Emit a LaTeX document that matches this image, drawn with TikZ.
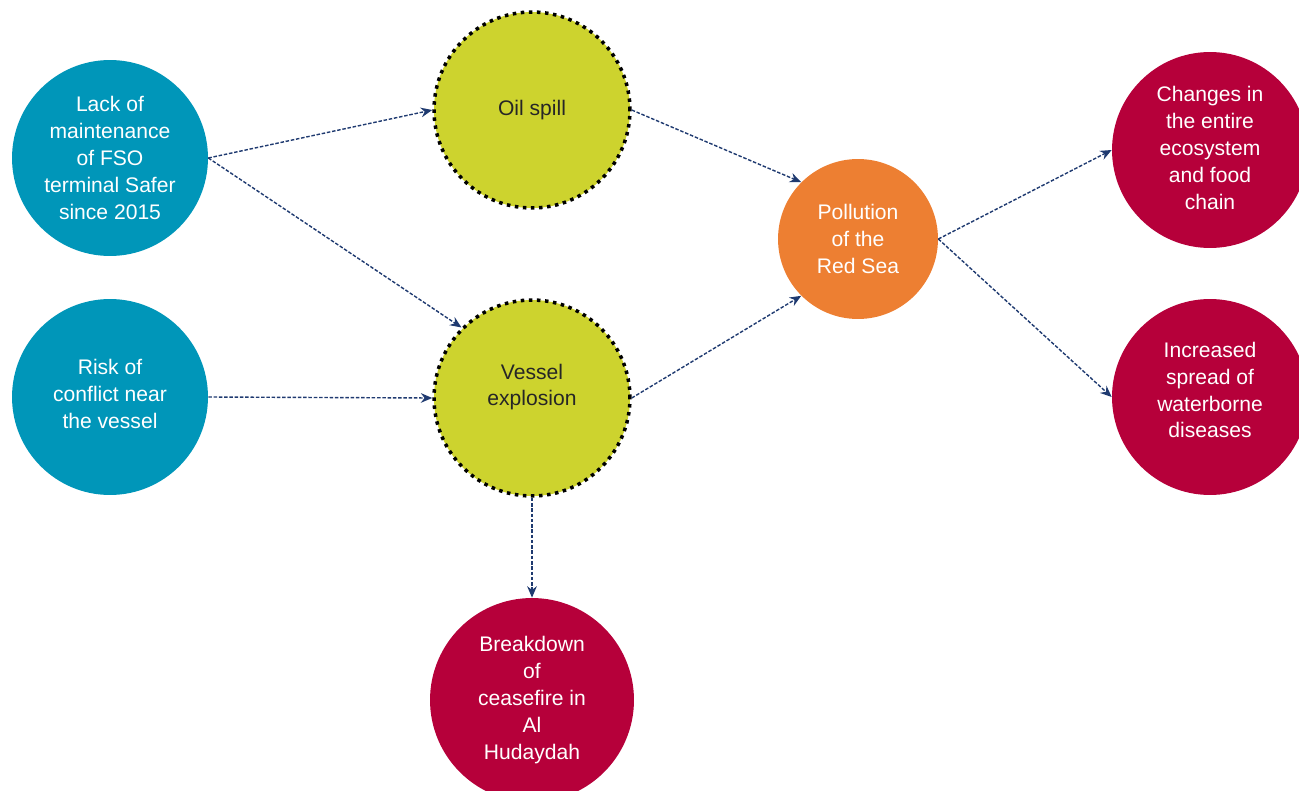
\documentclass[tikz,border=0pt]{standalone}
\usepackage{fontspec}
\setmainfont{Liberation Sans}
\usetikzlibrary{arrows.meta}

\definecolor{teal}{HTML}{0096B9}
\definecolor{lime}{HTML}{CDD32E}
\definecolor{orng}{HTML}{ED7F32}
\definecolor{crim}{HTML}{B6003A}
\definecolor{navy}{HTML}{1F3A70}

\tikzset{
  cause/.style={circle,fill=#1,text=white,minimum size=3.92cm,inner sep=0pt,align=center},
  risk/.style={circle,fill=lime,text=black!85,minimum size=3.92cm,inner sep=0pt,align=center,
    draw=black,line width=2pt,dash pattern=on 2pt off 2.6pt},
  link/.style={-{Stealth[length=6.5pt,width=5.5pt]},navy,line width=0.8pt,dash pattern=on 2pt off 1pt}
}

\begin{document}
\begin{tikzpicture}[x=0.02cm,y=-0.02cm,font=\fontsize{12}{15.3}\selectfont]

\useasboundingbox (0,0) rectangle (1299,791);

\coordinate (p1) at (110,158);
\coordinate (p2) at (110,397);
\coordinate (p3) at (532,110);
\coordinate (p4) at (532,398);
\coordinate (p5) at (858,239);
\coordinate (p6) at (1210,150);
\coordinate (p7) at (1210,397);
\coordinate (p8) at (532,700);

\node[cause=teal] (lack) at (p1) {Lack of\\maintenance\\of FSO\\terminal Safer\\since 2015};
\node[cause=teal,text depth=3.4pt] (conflict) at (p2) {Risk of\\conflict near\\the vessel};
\node[risk] (oil) at (p3) {Oil spill};
\node[risk,text depth=15pt] (vessel) at (p4) {Vessel\\explosion};
\node[cause=orng,minimum size=3.2cm] (pollution) at (p5) {Pollution\\of the\\Red Sea};
\node[cause=crim,text depth=2.5pt] (ecosystem) at (p6) {Changes in\\the entire\\ecosystem\\and food\\chain};
\node[cause=crim,text depth=8pt] (disease) at (p7) {Increased\\spread of\\waterborne\\diseases};
\node[cause=crim,minimum size=4.08cm] (ceasefire) at (p8) {Breakdown\\of\\ceasefire in\\Al\\Hudaydah};

\draw[link] (lack.east) -- (oil.west);
\draw[link] (lack.east) -- (vessel.135);
\draw[link] (conflict.east) -- (vessel.west);
\draw[link] (oil.east) -- (pollution.135);
\draw[link] (vessel.east) -- (pollution.225);
\draw[link] (pollution.east) -- (ecosystem.west);
\draw[link] (pollution.east) -- (disease.west);
\draw[link] (vessel.south) -- (ceasefire.north);

\end{tikzpicture}
\end{document}
